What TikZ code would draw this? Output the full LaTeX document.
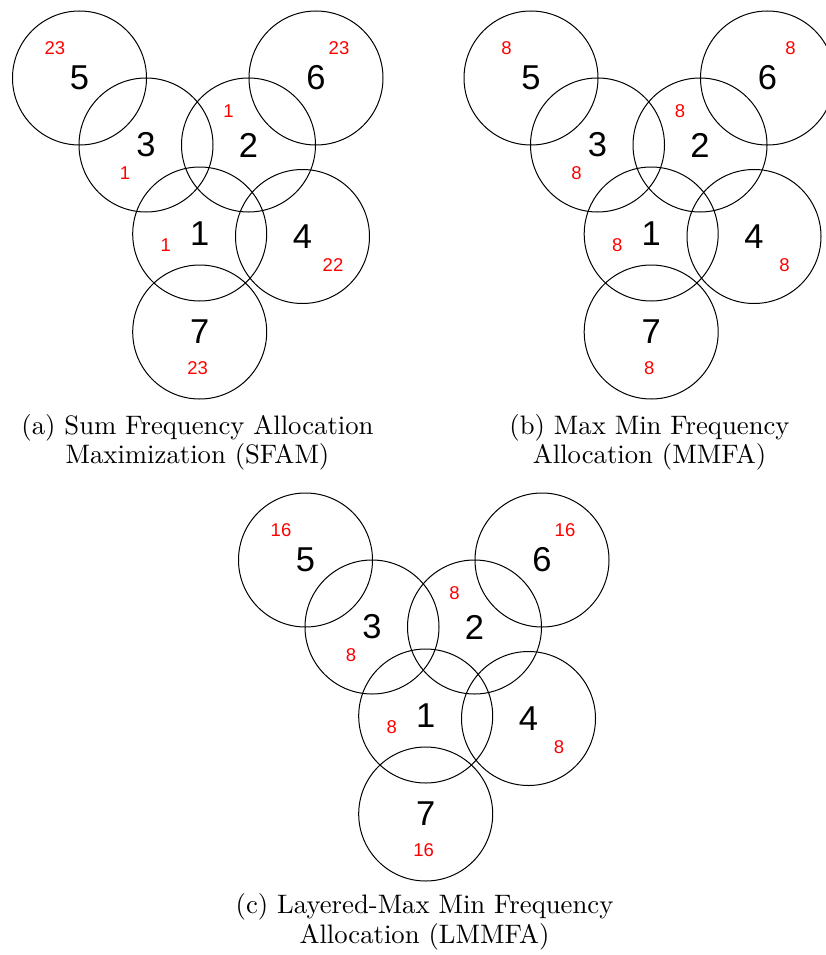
\documentclass[tikz,border=0pt]{standalone}
\usepackage{fontspec}
\newfontfamily\arialf{Liberation Sans}
\newfontfamily\capfont{lmroman10-regular}[Extension=.otf]
\tikzset{
  cell/.style={draw, circle, line width=1pt, minimum size=134pt, inner sep=0pt,
    font=\arialf\fontsize{34.5}{34.5}\selectfont},
  freq/.style={text=red, inner sep=0pt, font=\arialf\fontsize{18.5}{18.5}\selectfont},
  capt/.style={anchor=base, inner sep=0pt, font=\capfont\fontsize{26.7}{30}\selectfont}
}
% #1 prefix, #2..#8 red labels of cells 1..7
\newcommand\cellgroup[8]{%
  \node[cell] (#1c5) at (79.5,78) {5};
  \node[cell] (#1c6) at (316,78) {6};
  \node[cell] (#1c3) at (146,145) {3};
  \node[cell] (#1c2) at (248.5,145) {2};
  \node[cell] (#1c1) at (199.7,234) {1};
  \node[cell] (#1c4) at (302.5,236.5) {4};
  \node[cell] (#1c7) at (199.7,332) {7};
  \node[freq] (#1f1) at ([shift={(-34,11)}]#1c1.center) {#2};
  \node[freq] (#1f2) at ([shift={(-20,-34)}]#1c2.center) {#3};
  \node[freq] (#1f3) at ([shift={(-21,28)}]#1c3.center) {#4};
  \node[freq] (#1f4) at ([shift={(30.5,28.5)}]#1c4.center) {#5};
  \node[freq] (#1f5) at ([shift={(-24.5,-30)}]#1c5.center) {#6};
  \node[freq] (#1f6) at ([shift={(23,-30)}]#1c6.center) {#7};
  \node[freq] (#1f7) at ([shift={(-2,36)}]#1c7.center) {#8};
}
\begin{document}
\begin{tikzpicture}[x=1pt, y=-1pt]
  \useasboundingbox (0,0) rectangle (825,955);
  \begin{scope}
    \cellgroup{a}{1}{1}{1}{22}{23}{23}{23}
  \end{scope}
  \begin{scope}[shift={(451.5,0)}]
    \cellgroup{b}{8}{8}{8}{8}{8}{8}{8}
  \end{scope}
  \begin{scope}[shift={(226,482)}]
    \cellgroup{c}{8}{8}{8}{8}{16}{16}{16}
  \end{scope}
  \node[capt] (capa1) at (197.5,434) {(a) Sum Frequency Allocation};
  \node[capt] (capa2) at (197.5,463.3) {Maximization (SFAM)};
  \node[capt] (capb1) at (649.5,434) {(b) Max Min Frequency};
  \node[capt] (capb2) at (649.5,463.3) {Allocation (MMFA)};
  \node[capt] (capc1) at (424.5,913.3) {(c) Layered-Max Min Frequency};
  \node[capt] (capc2) at (424.5,943.3) {Allocation (LMMFA)};
\end{tikzpicture}
\end{document}
